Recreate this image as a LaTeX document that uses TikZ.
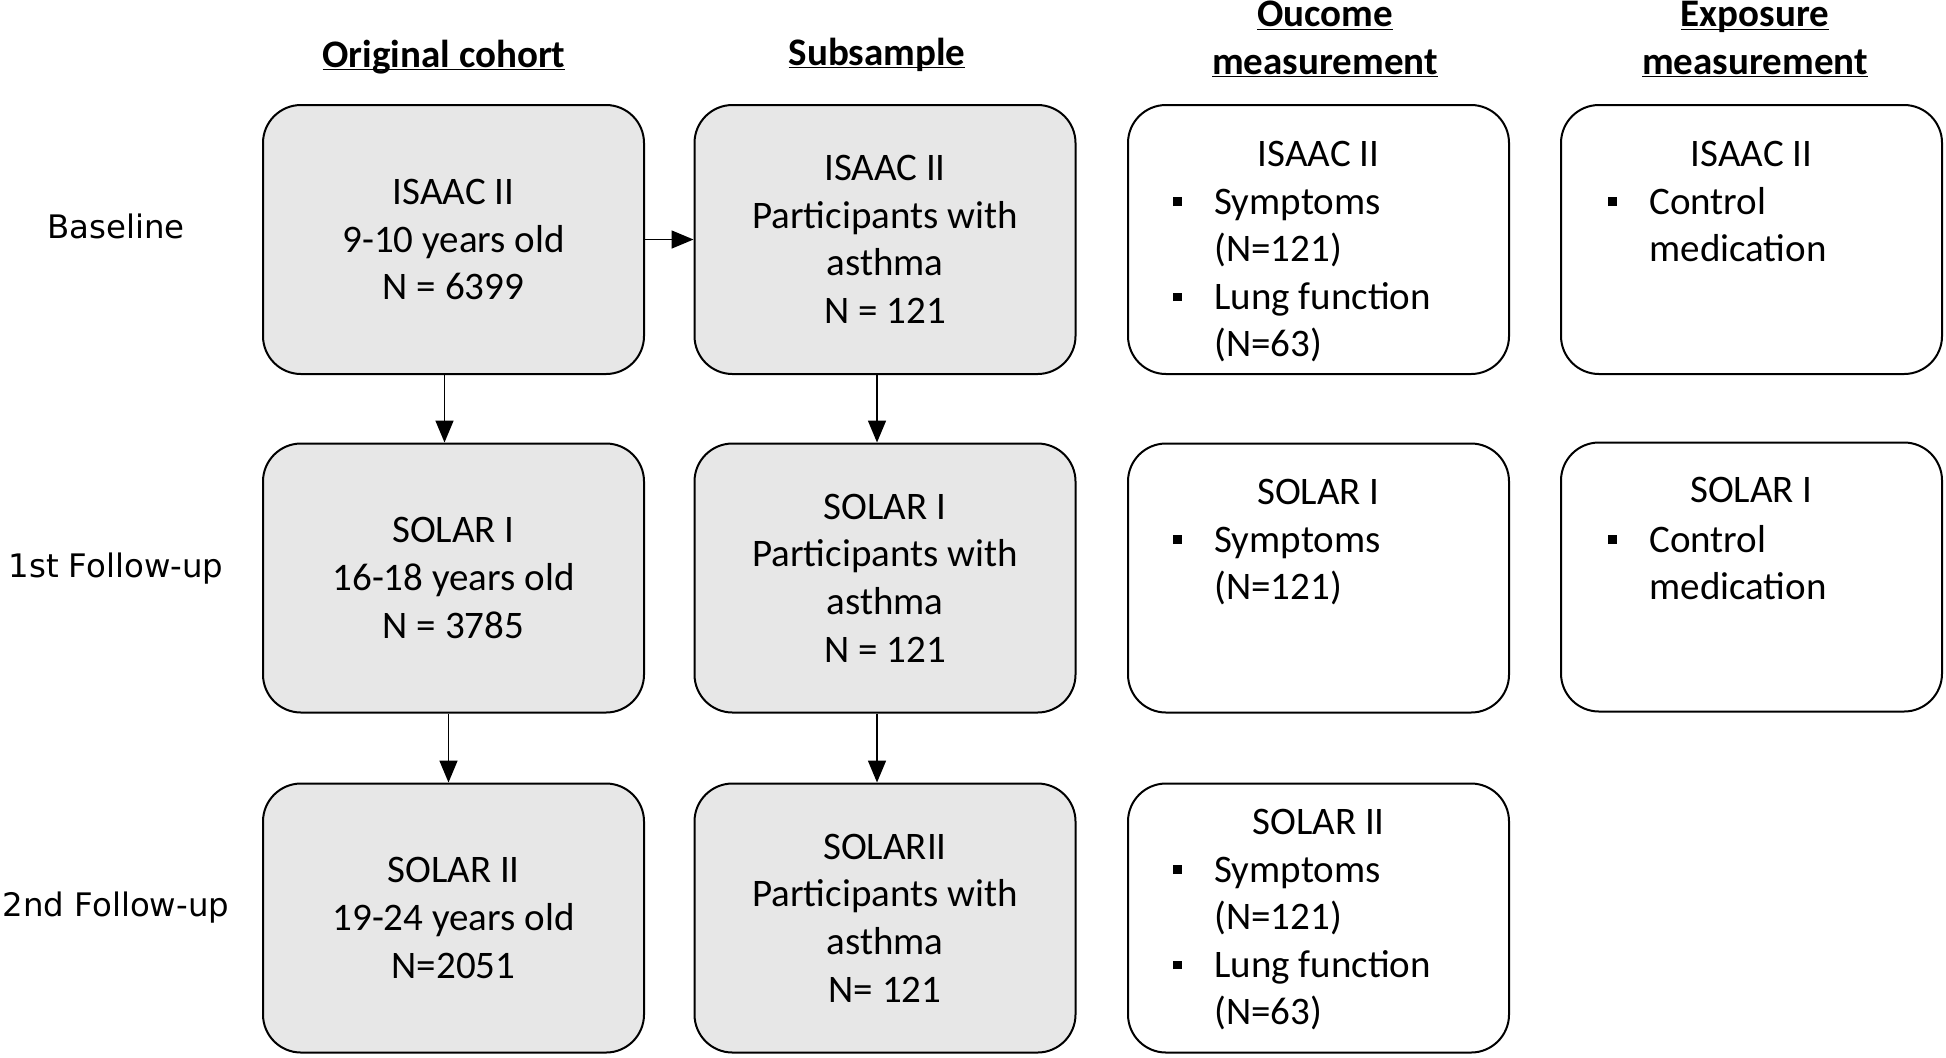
\documentclass[tikz,border=0pt]{standalone}
\usepackage{fontspec}
\setmainfont{Carlito}
\newfontfamily\rowfont{DejaVu Sans}
\usetikzlibrary{arrows.meta,shapes}
\definecolor{boxgray}{RGB}{231,231,231}
\newcommand{\boxfont}{\fontsize{19.5}{23.8}\selectfont}
\newcommand{\sqbullet}{\raisebox{4pt}{\rule{4.3pt}{4.3pt}}}
\newcommand{\headline}[1]{\underline{\smash{#1}}}
\tikzstyle{cohort box}=[rectangle,rounded corners=19pt,draw=black,line width=1pt,fill=boxgray,minimum width=190.5pt,minimum height=134.5pt,align=center,inner sep=0pt]
\tikzstyle{measure box}=[cohort box,fill=white]
\tikzstyle{col head}=[font=\boxfont\bfseries,align=center,anchor=base,inner sep=0pt]
\tikzstyle{row label}=[font=\rowfont\fontsize{16.2}{19.5}\selectfont,anchor=base,inner sep=0pt]
\tikzstyle{item list}=[anchor=base west,inner sep=0pt]
\tikzstyle{flow}=[draw,line width=0.8pt,-{Triangle[length=11pt,width=9pt]}]

\begin{document}
\begin{tikzpicture}[x=0.5pt,y=-0.5pt,font=\boxfont]
    \useasboundingbox (0,0) rectangle (1946,1057);
    % Column headings
    \node[col head] (headorig) at (444,67) {\headline{Original cohort}};
    \node[col head] (headsub) at (877,65) {\headline{Subsample}};
    \node[col head] (headout) at (1325,74) {\headline{Oucome}\\\headline{measurement}};
    \node[col head] (headexp) at (1755,74) {\headline{Exposure}\\\headline{measurement}};

    % Row labels
    \foreach \y/\name/\txt in {238/baseline/Baseline, 577/follow1/1st Follow-up, 916/follow2/2nd Follow-up}
        \node[row label] (\name) at (116,\y) {\txt};

    % Grey cohort boxes
    \foreach \pos/\name/\txt in {{(453.5,239.5)/orig1/ISAAC II\\9-10 years old\\N = 6399},
                                 {(453.5,578)/orig2/SOLAR I\\16-18 years old\\N = 3785},
                                 {(453.5,918)/orig3/SOLAR II\\19-24 years old\\N=2051},
                                 {(885,239.5)/sub1/ISAAC II\\Participants with\\asthma\\N = 121},
                                 {(885,578)/sub2/SOLAR I\\Participants with\\asthma\\N = 121},
                                 {(885,918)/sub3/SOLARII\\Participants with\\asthma\\N= 121}}
        \node[cohort box] (\name) at \pos {\txt};

    % White measurement boxes
    \foreach \pos/\name in {{(1318.5,239.5)/out1},{(1318.5,578)/out2},{(1318.5,918)/out3},
                            {(1751.5,239.5)/exp1},{(1751.5,577)/exp2}}
        \node[measure box] (\name) at \pos {};

    % Titles inside the measurement boxes
    \foreach \pos/\name/\txt in {{(1318.5,166)/outtitle1/ISAAC II},{(1318.5,504)/outtitle2/SOLAR I},
                                 {(1318.5,834)/outtitle3/SOLAR II},{(1751.5,166)/exptitle1/ISAAC II},
                                 {(1751.5,502)/exptitle2/SOLAR I}}
        \node[anchor=base,inner sep=0pt] (\name) at \pos {\txt};

    % Bullet lists
    \node[item list] (outlist1) at (1173,214) {\begin{tabular}[t]{@{}p{20.5pt}@{}l@{}}
        \sqbullet & Symptoms\\ & (N=121)\\ \sqbullet & Lung function\\ & (N=63)\end{tabular}};
    \node[item list] (outlist2) at (1173,552) {\begin{tabular}[t]{@{}p{20.5pt}@{}l@{}}
        \sqbullet & Symptoms\\ & (N=121)\end{tabular}};
    \node[item list] (outlist3) at (1173,882) {\begin{tabular}[t]{@{}p{20.5pt}@{}l@{}}
        \sqbullet & Symptoms\\ & (N=121)\\ \sqbullet & Lung function\\ & (N=63)\end{tabular}};
    \node[item list] (explist1) at (1608,214) {\begin{tabular}[t]{@{}p{20.5pt}@{}l@{}}
        \sqbullet & Control\\ & medication\end{tabular}};
    \node[item list] (explist2) at (1608,552) {\begin{tabular}[t]{@{}p{20.5pt}@{}l@{}}
        \sqbullet & Control\\ & medication\end{tabular}};

    % Arrows between the cohort boxes
    \foreach \source/\dest/\dx in {orig1/orig2/-4.5pt, orig2/orig3/-2.5pt, sub1/sub2/-4pt, sub2/sub3/-4pt}
        \path[flow] ([xshift=\dx]\source.south) -- ([xshift=\dx]\dest.north);
    \path[flow] (orig1) -- (sub1);
\end{tikzpicture}
\end{document}
